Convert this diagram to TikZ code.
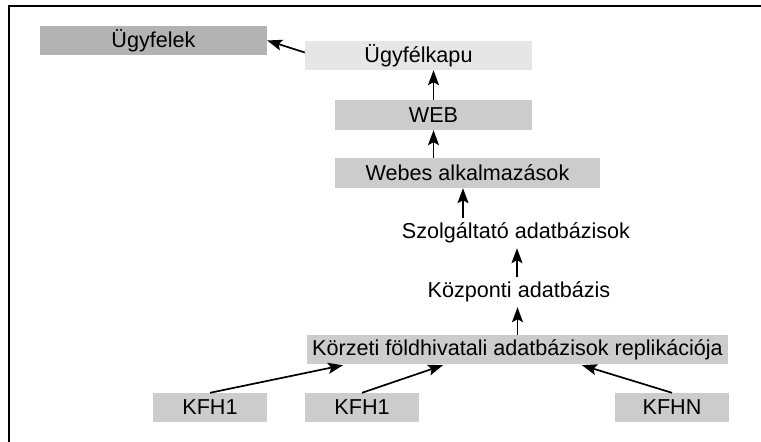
\documentclass[tikz,border=0pt]{standalone}
\usepackage{fontspec}
\setmainfont{Liberation Sans}
\usetikzlibrary{arrows.meta}

\definecolor{boxdark}{HTML}{B3B3B3}
\definecolor{boxmid}{HTML}{CCCCCC}
\definecolor{boxlight}{HTML}{E6E6E6}

\begin{document}
\begin{tikzpicture}[
    x=1pt,
    y=-1pt,
    font=\fontsize{21.6}{26}\selectfont,
    box/.style={fill=boxmid, inner sep=0pt, minimum height=29pt},
    plain/.style={inner sep=0pt, minimum height=30pt},
    arr/.style={-{Stealth[length=15pt,width=11pt,inset=3pt]}, line width=1.7pt}
]

\useasboundingbox (0,0) rectangle (761,442);

% Frame
\draw[line width=1.6pt] (761,6) -- (9,6) -- (9,442);

% Boxes
\node[box, fill=boxdark, minimum width=227pt] (ugyfelek) at (153.5,40.5) {Ügyfelek};
\node[box, fill=boxlight, minimum width=227pt] (kapu) at (418.5,55.5) {Ügyfélkapu};
\node[box, minimum width=197pt, minimum height=30pt] (web) at (433.5,115) {WEB};
\node[box, minimum width=265pt, minimum height=30pt] (webes) at (467.5,173) {Webes alkalmazások};
\node[plain] (szolg) at (516,233) {Szolgáltató adatbázisok};
\node[plain] (kozp) at (519,292) {Központi adatbázis};
\node[box, minimum width=421pt] (korzeti) at (517.5,349.5) {Körzeti földhivatali adatbázisok replikációja};

% Local offices
\foreach \x/\name/\lbl in {210/kfha/KFH1, 362/kfhb/KFH1, 672/kfhn/KFHN} {
    \node[box, minimum width=114pt] (\name) at (\x,407.5) {\lbl};
}

% Arrows
\draw[arr] ([yshift=3pt]kapu.west) -- (ugyfelek.east);
\draw[arr] (web.north) -- (web.north |- kapu.south);
\draw[arr] (webes.north -| web) -- (web.south);
\draw[arr] ([xshift=-53pt]szolg.north) -- ([xshift=-53pt]szolg.north |- webes.south);
\draw[arr] ([xshift=-2pt]kozp.north) -- ([xshift=-2pt]kozp.north |- szolg.south);
\draw[arr] (korzeti.north) -- (korzeti.north |- kozp.south);

\foreach \name/\dx in {kfha/-174.5, kfhb/-74.5, kfhn/64.5} {
    \draw[arr] (\name.north) -- ([xshift=\dx pt, yshift=-1pt]korzeti.south);
}

\end{tikzpicture}
\end{document}
